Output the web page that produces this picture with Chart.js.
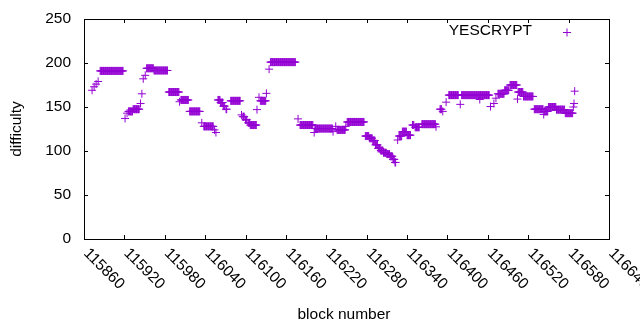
<!DOCTYPE html>
<html>
<head>
<meta charset="utf-8">
<title>YESCRYPT difficulty</title>
<script src="https://cdn.jsdelivr.net/npm/chart.js@4.4.1/dist/chart.umd.min.js"></script>
<style>
    html, body { margin: 0; padding: 0; background: #fff; }
    #wrap { width: 640px; height: 330px; }
</style>
</head>
<body>
<div id="wrap"><canvas id="diffChart" width="640" height="330"></canvas></div>
<script>
const runStart = [
    115872, 115875, 115878, 115881, 115884, 115921, 115924, 115926, 115933, 115944,
    115946, 115948, 115951, 115953, 115964, 115986, 116002, 116004, 116017, 116035,
    116038, 116054, 116056, 116059, 116063, 116067, 116071, 116078, 116094, 116096,
    116100, 116104, 116107, 116117, 116120, 116122, 116131, 116135, 116137, 116178,
    116181, 116202, 116203, 116230, 116234, 116236, 116249, 116251, 116278, 116284,
    116289, 116293, 116297, 116301, 116305, 116310, 116315, 116319, 116322, 116326,
    116328, 116333, 116340, 116348, 116352, 116362, 116383, 116389, 116393, 116398,
    116402, 116419, 116421, 116448, 116464, 116469, 116472, 116475, 116485, 116493,
    116504, 116505, 116513, 116529, 116543, 116544, 116550, 116562, 116575, 116587,
    116588, 116589
];
const runEnd = [
    115872, 115875, 115878, 115881, 115918, 115921, 115924, 115932, 115942, 115944,
    115946, 115948, 115951, 115963, 115984, 116001, 116002, 116015, 116032, 116035,
    116052, 116054, 116056, 116062, 116066, 116069, 116072, 116092, 116094, 116098,
    116102, 116106, 116116, 116117, 116120, 116130, 116131, 116135, 116174, 116178,
    116200, 116202, 116229, 116230, 116234, 116248, 116249, 116276, 116283, 116288,
    116292, 116296, 116300, 116304, 116309, 116314, 116318, 116321, 116323, 116326,
    116332, 116339, 116345, 116350, 116358, 116382, 116383, 116391, 116393, 116398,
    116416, 116419, 116462, 116448, 116464, 116469, 116472, 116484, 116491, 116503,
    116504, 116512, 116527, 116542, 116543, 116549, 116561, 116574, 116586, 116587,
    116588, 116589
];
const runDifficulty = [
    169, 173, 176, 179, 191, 137, 143, 145, 147.5, 154,
    165, 182, 186, 194, 191.5, 167, 156, 158, 145, 132,
    128, 124, 121, 158, 155, 151, 147.5, 157, 141, 139,
    135.5, 132, 129.5, 147, 161, 157, 165.5, 193, 201, 136.5,
    129.5, 121, 125.5, 122, 128, 124, 128, 133, 117, 114.5,
    112, 107, 103, 100.5, 98, 96.5, 94, 90.5, 87, 112.5,
    117, 122, 118, 129.5, 127, 130.5, 127.5, 147.5, 145, 155.5,
    163.5, 153, 163.5, 158.5, 150.5, 154, 160, 165, 169, 175,
    159, 167, 162, 147.5, 141.5, 145, 150, 147, 143, 150,
    154, 168
];

const xTicks = [115860, 115920, 115980, 116040, 116100, 116160, 116220,
                116280, 116340, 116400, 116460, 116520, 116580, 116640];
const yTicks = [0, 50, 100, 150, 200, 250];

const seriesName = 'YESCRYPT';
const purple = '#9400d3';
const FONT = '15.5px "Liberation Sans", Arial, sans-serif';

// one point per block inside each run
const points = [];
runStart.forEach((s, i) => {
    for (let b = s; b <= runEnd[i]; b++) {
        points.push({ x: b, y: runDifficulty[i] });
    }
});

// gnuplot-like frame, inward ticks, rotated labels, titles and key
const gnuplotFrame = {
    id: 'gnuplotFrame',
    afterDraw(chart) {
        const ctx = chart.ctx;
        const a = chart.chartArea;
        const xs = chart.scales.x;
        const ys = chart.scales.y;
        const tick = 4;

        ctx.save();
        ctx.strokeStyle = '#000';
        ctx.lineWidth = 1;

        // border
        ctx.strokeRect(a.left + 0.5, a.top + 0.5, a.right - a.left, a.bottom - a.top);

        ctx.beginPath();
        xTicks.forEach(v => {
            const px = Math.round(xs.getPixelForValue(v)) + 0.5;
            ctx.moveTo(px, a.bottom); ctx.lineTo(px, a.bottom - tick);
            ctx.moveTo(px, a.top); ctx.lineTo(px, a.top + tick);
        });
        yTicks.forEach(v => {
            const py = Math.round(ys.getPixelForValue(v)) + 0.5;
            ctx.moveTo(a.left, py); ctx.lineTo(a.left + tick, py);
            ctx.moveTo(a.right, py); ctx.lineTo(a.right - tick, py);
        });
        ctx.stroke();

        ctx.fillStyle = '#000';
        ctx.font = FONT;

        // y tick labels
        ctx.textAlign = 'right';
        ctx.textBaseline = 'middle';
        yTicks.forEach(v => {
            ctx.fillText(String(v), a.left - 13, ys.getPixelForValue(v));
        });

        // x tick labels, rotated -45 (reading downwards)
        ctx.textAlign = 'left';
        xTicks.forEach(v => {
            const px = xs.getPixelForValue(v);
            ctx.save();
            ctx.translate(px + 2, a.bottom + 12);
            ctx.rotate(Math.PI / 4);
            ctx.fillText(String(v), 0, 0);
            ctx.restore();
        });

        // axis titles
        ctx.textAlign = 'center';
        ctx.fillText('block number', 344, 315);
        ctx.save();
        ctx.translate(17, 129);
        ctx.rotate(-Math.PI / 2);
        ctx.fillText('difficulty', 0, 0);
        ctx.restore();

        // key
        ctx.textAlign = 'right';
        ctx.fillText(seriesName, 532, 31);
        ctx.strokeStyle = purple;
        ctx.beginPath();
        ctx.moveTo(563, 32.5); ctx.lineTo(571, 32.5);
        ctx.moveTo(567, 28.5); ctx.lineTo(567, 36.5);
        ctx.stroke();

        ctx.restore();
    }
};

new Chart(document.getElementById('diffChart'), {
    type: 'scatter',
    data: {
        datasets: [{
            label: seriesName,
            data: points,
            pointStyle: 'cross',
            pointRadius: 4,
            pointBorderWidth: 1,
            borderColor: purple,
            backgroundColor: purple
        }]
    },
    options: {
        responsive: false,
        animation: false,
        devicePixelRatio: 1,
        layout: { padding: { left: 84, right: 31, top: 19, bottom: 91 } },
        plugins: {
            legend: { display: false },
            tooltip: { enabled: false }
        },
        scales: {
            x: {
                type: 'linear',
                min: 115860,
                max: 116640,
                display: false
            },
            y: {
                min: 0,
                max: 250,
                display: false
            }
        }
    },
    plugins: [gnuplotFrame]
});
</script>
</body>
</html>
